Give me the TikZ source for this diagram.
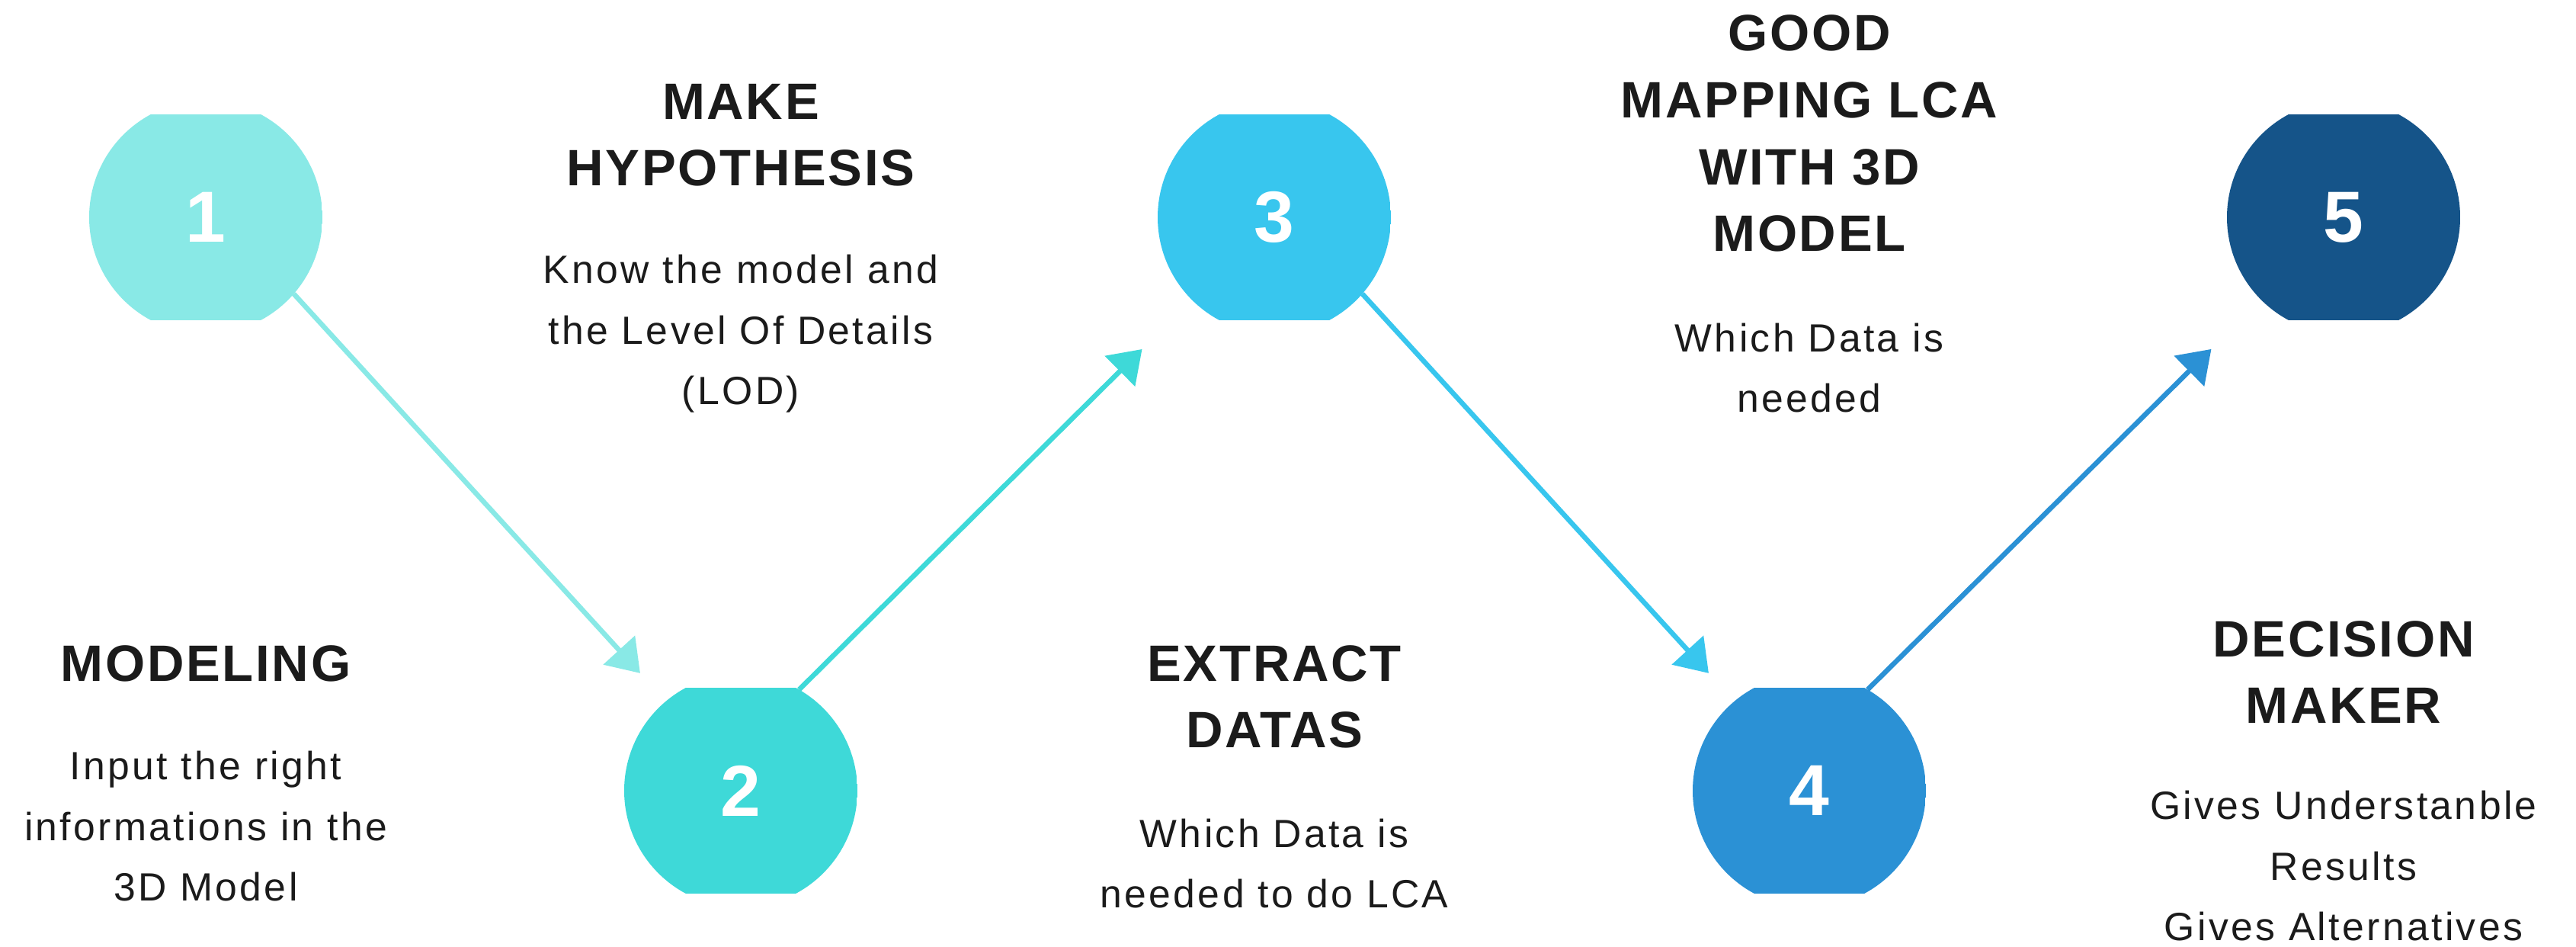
\documentclass[tikz,border=0pt]{standalone}
\usepackage{fontspec}
\setmainfont{Liberation Sans}
\newfontfamily\headfont{Liberation Sans}[LetterSpace=4]
\newfontfamily\descfont{Liberation Sans}[LetterSpace=6.5]
\usetikzlibrary{arrows.meta}
\definecolor{stepA}{HTML}{89E9E6}
\definecolor{stepB}{HTML}{3ED9D8}
\definecolor{stepC}{HTML}{38C6EE}
\definecolor{stepD}{HTML}{2B91D5}
\definecolor{stepE}{HTML}{155489}
\definecolor{ink}{HTML}{1B1B1B}

\begin{document}
\begin{tikzpicture}[
	num/.style={circle,minimum size=3.06cm,inner sep=0pt,outer sep=0pt,text=white,
		font=\fontsize{27}{27}\selectfont\bfseries,
		path picture={\fill[#1] ([yshift=-1.35cm]path picture bounding box.west) rectangle ([yshift=1.35cm]path picture bounding box.east);}},
	head/.style={anchor=base,align=center,text=ink,font=\headfont\bfseries\fontsize{19.1}{25}\selectfont},
	desc/.style={anchor=base,align=center,text=ink,font=\descfont\fontsize{14.7}{22.7}\selectfont},
	arr/.style={line width=0.065cm,draw=#1,-{Triangle[length=0.41cm,width=0.55cm]}}
	]
	\fill[white] (0,0) rectangle (33.8,12.42);
	\useasboundingbox (0,0) rectangle (33.8,12.42);
	\node[num=stepA] (s1) at (2.70,9.57) {1};
	\node[num=stepB] (s2) at (9.72,2.05) {2};
	\node[num=stepC] (s3) at (16.72,9.57) {3};
	\node[num=stepD] (s4) at (23.74,2.05) {4};
	\node[num=stepE] (s5) at (30.75,9.57) {5};
	\draw[arr=stepA,shorten >=0.5cm] (s1.319) -- (s2.130);
	\draw[arr=stepB,shorten >=0.92cm] (s2.60) -- (s3.225);
	\draw[arr=stepC,shorten >=0.5cm] (s3.319) -- (s4.130);
	\draw[arr=stepD,shorten >=0.92cm] (s4.60) -- (s5.225);
	\node[head] (h1) at (2.70,3.48) {MODELING};
	\node[desc] (d1) at (2.70,0.60) {Input the right\\informations in the\\3D Model};
	\node[head] (h2) at (9.72,9.98) {MAKE\\HYPOTHESIS};
	\node[desc] (d2) at (9.72,7.11) {Know the model and\\the Level Of Details\\(LOD)};
	\node[head] (h3) at (16.72,2.61) {EXTRACT\\DATAS};
	\node[desc] (d3) at (16.72,0.51) {Which Data is\\needed to do LCA};
	\node[head] (h4) at (23.74,9.12) {GOOD\\MAPPING LCA\\WITH 3D\\MODEL};
	\node[desc] (d4) at (23.74,7.01) {Which Data is\\needed};
	\node[head] (h5) at (30.75,2.93) {DECISION\\MAKER};
	\node[desc] (d5) at (30.75,0.08) {Gives Understanble\\Results\\Gives Alternatives};
\end{tikzpicture}
\end{document}
